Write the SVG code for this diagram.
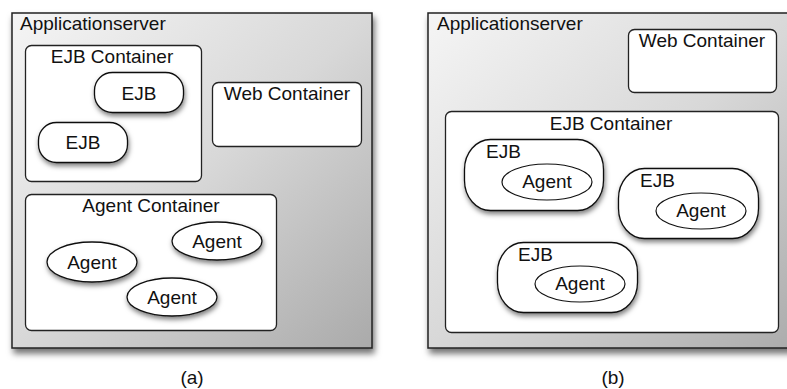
<svg xmlns="http://www.w3.org/2000/svg" width="787" height="389" viewBox="0 0 787 389">
<defs>
<linearGradient id="srv" x1="0" y1="0" x2="1" y2="1">
<stop offset="0" stop-color="#f5f5f5"/>
<stop offset="0.5" stop-color="#d8d8d8"/>
<stop offset="1" stop-color="#aaaaaa"/>
</linearGradient>
<filter id="sh" x="-20%" y="-20%" width="150%" height="160%">
<feDropShadow dx="2" dy="5" stdDeviation="3" flood-color="#000" flood-opacity="0.55"/>
</filter>
<filter id="shs" x="-20%" y="-20%" width="150%" height="160%">
<feDropShadow dx="1" dy="3" stdDeviation="2.5" flood-color="#000" flood-opacity="0.5"/>
</filter>
</defs>
<style>
text{font-family:"Liberation Sans",Arial,sans-serif;fill:#111;}
.t{font-size:19px;}
.c{font-size:19px;text-anchor:middle;}
.server{fill:url(#srv);stroke:#222;stroke-width:1.5;filter:url(#sh);}
.box{fill:#fff;stroke:#222;stroke-width:1.3;}
.node{fill:#fff;stroke:#111;stroke-width:1.3;filter:url(#shs);}
.inner{fill:#fff;stroke:#111;stroke-width:1.2;}
</style>
<rect width="787" height="389" fill="#fff"/>

<g id="panel-a">
<g id="a-server">
<rect class="server" x="12" y="13" width="360" height="335"/>
<text class="t" x="20" y="30">Applicationserver</text>
</g>
<g id="a-ejb-container">
<rect class="box" x="25.5" y="45.5" width="176" height="136" rx="6"/>
<text class="c" x="112" y="63">EJB Container</text>
</g>
<g id="a-ejb1">
<rect class="node" x="94.5" y="72.5" width="89" height="40" rx="18"/>
<text class="c" x="139" y="100">EJB</text>
</g>
<g id="a-ejb2">
<rect class="node" x="38.5" y="122.5" width="89" height="40" rx="18"/>
<text class="c" x="83" y="149">EJB</text>
</g>
<g id="a-web-container">
<rect class="box" x="212.5" y="82.5" width="149" height="64" rx="6"/>
<text class="c" x="287" y="100">Web Container</text>
</g>
<g id="a-agent-container">
<rect class="box" x="25.5" y="194.5" width="251" height="136" rx="6"/>
<text class="c" x="151" y="212">Agent Container</text>
</g>
<g id="a-agent1">
<ellipse class="node" cx="92" cy="262" rx="45" ry="20"/>
<text class="c" x="92" y="269">Agent</text>
</g>
<g id="a-agent2">
<ellipse class="node" cx="217" cy="241" rx="45" ry="19"/>
<text class="c" x="217" y="248">Agent</text>
</g>
<g id="a-agent3">
<ellipse class="node" cx="172" cy="297" rx="45" ry="19"/>
<text class="c" x="172" y="304">Agent</text>
</g>
<text class="c" x="192" y="384">(a)</text>
</g>

<g id="panel-b">
<g id="b-server">
<rect class="server" x="428" y="13" width="380" height="335"/>
<text class="t" x="437" y="30">Applicationserver</text>
</g>
<g id="b-web-container">
<rect class="box" x="628.5" y="29.5" width="148" height="63" rx="6"/>
<text class="c" x="702" y="47">Web Container</text>
</g>
<g id="b-ejb-container">
<rect class="box" x="445.5" y="111.5" width="333" height="221" rx="6"/>
<text class="c" x="611" y="130">EJB Container</text>
</g>
<g id="b-ejb1">
<rect class="node" x="464.5" y="139.5" width="139" height="71" rx="26" ry="30"/>
<text class="t" x="486" y="158">EJB</text>
<ellipse class="inner" cx="547" cy="182" rx="45" ry="18"/>
<text class="c" x="547" y="188">Agent</text>
</g>
<g id="b-ejb2">
<rect class="node" x="618.5" y="168.5" width="140" height="70" rx="26" ry="30"/>
<text class="t" x="640" y="187">EJB</text>
<ellipse class="inner" cx="701" cy="211" rx="45" ry="18"/>
<text class="c" x="701" y="217">Agent</text>
</g>
<g id="b-ejb3">
<rect class="node" x="497.5" y="242.5" width="140" height="70" rx="26" ry="30"/>
<text class="t" x="518" y="261">EJB</text>
<ellipse class="inner" cx="580" cy="284" rx="45" ry="18"/>
<text class="c" x="580" y="290">Agent</text>
</g>
<text class="c" x="613" y="384">(b)</text>
</g>
</svg>
